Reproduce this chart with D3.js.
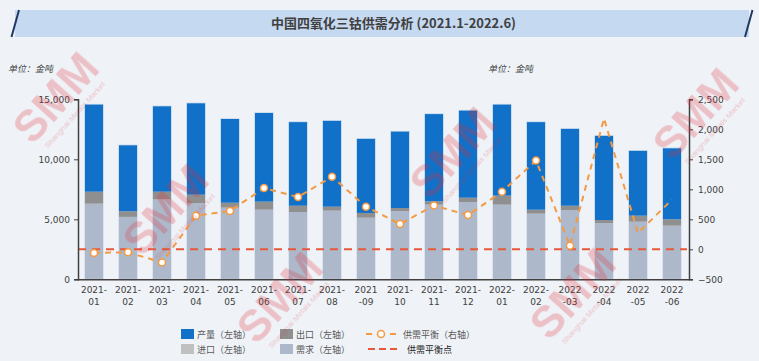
<!DOCTYPE html>
<html>
<head>
<meta charset="utf-8">
<script src="https://cdn.jsdelivr.net/npm/d3@7"></script>
<style>
html,body{margin:0;padding:0;background:#eff3f7;}
svg{display:block;}
</style>
</head>
<body>
<svg id="chart" width="759" height="361"></svg>
<script>
// ---------- data ----------
const months = ["2021-01","2021-02","2021-03","2021-04","2021-05","2021-06","2021-07","2021-08","2021-09","2021-10","2021-11","2021-12","2022-01","2022-02","2022-03","2022-04","2022-05","2022-06"];
const tickLabels = [["2021-","01"],["2021-","02"],["2021-","03"],["2021-","04"],["2021-","05"],["2021-","06"],["2021-","07"],["2021-","08"],["2021","-09"],["2021-","10"],["2021-","11"],["2021-","12"],["2022-","01"],["2022-","02"],["2022","-03"],["2022","-04"],["2022","-05"],["2022","-06"]];
const demand     = [6300,5200,6650,6330,5970,5800,5610,5720,5130,5690,6220,6440,6220,5470,5750,4690,4800,4470];
const exports_   = [1000,470,650,720,410,670,520,330,400,250,280,360,750,330,380,250,500,530];
const imports_   = [0,0,0,0,0,0,0,0,0,0,0,0,0,0,0,0,0,0];
const production = [7300,5530,7150,7650,7020,7430,7000,7200,6220,6410,7300,7300,7630,7330,6450,7060,5450,5950];
const balance    = [-60,-50,-220,560,640,1020,870,1210,710,420,730,570,960,1480,60,2180,270,830];
const balancePoint = 0;
const leftTicks  = [0,5000,10000,15000];
const rightTicks = [-500,0,500,1000,1500,2000,2500];
const markerCount = 15; // markers shown on first 15 points

const title = "中国四氧化三钴供需分析 (2021.1-2022.6)";
const unitLabel = "单位：金吨";

const seriesKeys = ["demand","export","import","production"];
const seriesColors = {demand:"#adb9cb", export:"#8f8f8f", import:"#c0c0c0", production:"#1170c8"};

// ---------- build ----------
const svg = d3.select("#chart");
const W = 759, H = 361;
svg.append("rect").attr("width",W).attr("height",H).attr("fill","#eff3f7");

const rows = months.map((m,i)=>({month:m, demand:demand[i], export:exports_[i], import:imports_[i], production:production[i]}));

const x = d3.scaleBand().domain(months).range([77,689]).paddingInner(0.44).paddingOuter(0.22);
const yL = d3.scaleLinear().domain([0,15000]).range([279.3,99.3]);
const yR = d3.scaleLinear().domain([-500,2500]).range([279.3,99.3]);

// title bar
const tb = svg.append("g");
tb.append("rect").attr("x",15).attr("y",10).attr("width",734).attr("height",27).attr("fill","#c5d9f1");
tb.append("line").attr("x1",19).attr("y1",10).attr("x2",11.5).attr("y2",37).attr("stroke","#1f3864").attr("stroke-width",2);
tb.append("line").attr("x1",752.5).attr("y1",10).attr("x2",745).attr("y2",37).attr("stroke","#1f3864").attr("stroke-width",2);
tb.append("text").attr("x",271).attr("y",28).attr("textLength",245).attr("lengthAdjust","spacingAndGlyphs")
  .attr("font-family","'Noto Sans CJK SC','DejaVu Sans',sans-serif").attr("font-weight","bold").attr("font-size",13)
  .attr("fill","#404040").text(title);

// unit labels
[8,488].forEach(ux=>{
  svg.append("text").attr("x",ux).attr("y",72).attr("font-family","'Noto Sans CJK SC',sans-serif")
    .attr("font-size",9).attr("font-style","italic").attr("fill","#404040").text(unitLabel);
});

// stacked bars
const stack = d3.stack().keys(seriesKeys)(rows);
const gBars = svg.append("g");
stack.forEach(layer=>{
  gBars.append("g").attr("fill",seriesColors[layer.key])
    .selectAll("rect").data(layer).join("rect")
    .attr("x",d=>x(d.data.month)).attr("width",x.bandwidth())
    .attr("y",d=>yL(d[1])).attr("height",d=>Math.max(0,yL(d[0])-yL(d[1])));
});
gBars.append("g").selectAll("rect").data(rows).join("rect")
  .attr("x",d=>x(d.month)).attr("width",x.bandwidth())
  .attr("y",d=>yL(d.demand+d.export+d.import+d.production))
  .attr("height",d=>yL(0)-yL(d.demand+d.export+d.import+d.production))
  .attr("fill","none").attr("stroke","#dfe8f2").attr("stroke-width",0.8);

// balance point line (0 on right axis)
svg.append("line").attr("x1",78).attr("x2",687).attr("y1",yR(balancePoint)).attr("y2",yR(balancePoint))
  .attr("stroke","#e9573a").attr("stroke-width",2).attr("stroke-dasharray","8,6");

// balance line
const cx = m=>x(m)+x.bandwidth()/2;
const line = d3.line().x((d,i)=>cx(months[i])).y(d=>yR(d));
svg.append("path").datum(balance).attr("d",line).attr("fill","none")
  .attr("stroke","#f39a45").attr("stroke-width",2).attr("stroke-dasharray","6,5");
svg.append("g").selectAll("circle").data(balance.slice(0,markerCount)).join("circle")
  .attr("cx",(d,i)=>cx(months[i])).attr("cy",d=>yR(d)).attr("r",3.5)
  .attr("fill","#fff").attr("stroke","#f39a45").attr("stroke-width",1.5);

// axes
const axisColor = "#404040";
const fontAxis = "'DejaVu Sans',Verdana,sans-serif";
const gL = svg.append("g").attr("transform","translate(78,0)")
  .call(d3.axisLeft(yL).tickValues(leftTicks).tickFormat(d3.format(",")).tickSizeOuter(0).tickSize(4));
const gR = svg.append("g").attr("transform","translate(689,0)")
  .call(d3.axisRight(yR).tickValues(rightTicks).tickFormat(d3.format(",")).tickSizeOuter(0).tickSize(4));
[gL,gR].forEach(g=>{
  g.select(".domain").attr("stroke",axisColor).attr("stroke-width",1.5);
  g.selectAll(".tick line").attr("stroke",axisColor);
  g.selectAll(".tick text").attr("font-family",fontAxis).attr("font-size",9).attr("fill",axisColor);
});
gL.selectAll(".tick text").attr("x",-8);
gR.selectAll(".tick text").attr("x",9);

const gX = svg.append("g").attr("transform",`translate(0,${yL(0)})`)
  .call(d3.axisBottom(x).tickSize(0).tickSizeOuter(0).tickFormat(""));
gX.select(".domain").attr("stroke",axisColor).attr("stroke-width",1.5);
gX.selectAll(".tick").each(function(m,i){
  const t = d3.select(this).append("text").attr("fill",axisColor).attr("font-family",fontAxis).attr("font-size",9).attr("text-anchor","middle");
  t.append("tspan").attr("x",0).attr("y",14).text(tickLabels[i][0]);
  t.append("tspan").attr("x",0).attr("y",26).text(tickLabels[i][1]);
});

// legend
const lg = svg.append("g").attr("font-family","'Noto Sans CJK SC',sans-serif").attr("font-size",9).attr("fill","#595959");
const legendItems = [
  {key:"production",label:"产量（左轴）",x:181,y:329},
  {key:"export",label:"出口（左轴）",x:280,y:329},
  {key:"import",label:"进口（左轴）",x:181,y:344},
  {key:"demand",label:"需求（左轴）",x:280,y:344}
];
legendItems.forEach(it=>{
  lg.append("rect").attr("x",it.x).attr("y",it.y).attr("width",13).attr("height",10).attr("fill",seriesColors[it.key]);
  lg.append("text").attr("x",it.x+16).attr("y",it.y+8.5).text(it.label);
});
lg.append("line").attr("x1",366).attr("x2",396).attr("y1",334).attr("y2",334)
  .attr("stroke","#f39a45").attr("stroke-width",2).attr("stroke-dasharray","6,18");
lg.append("circle").attr("cx",381).attr("cy",334).attr("r",3.5).attr("fill","#fff").attr("stroke","#f39a45").attr("stroke-width",1.5);
lg.append("text").attr("x",403).attr("y",337.5).text("供需平衡（右轴）");
lg.append("line").attr("x1",368).attr("x2",397).attr("y1",349).attr("y2",349)
  .attr("stroke","#e9573a").attr("stroke-width",2).attr("stroke-dasharray","7,4");
lg.append("text").attr("x",407).attr("y",352.5).attr("fill","#262626").text("供需平衡点");

// watermarks (kept inside the frame)
const wm = svg.append("g").attr("pointer-events","none").attr("opacity",0.26);
[[58,100],[168,212],[455,155],[698,116],[282,300],[575,296]].forEach(([wx,wy])=>{
  const g = wm.append("g").attr("transform",`translate(${wx},${wy}) rotate(-48)`);
  g.append("text").attr("text-anchor","middle").attr("font-family","'Liberation Sans',Arial,sans-serif")
    .attr("font-weight","bold").attr("font-size",44).attr("fill","#e0303c").attr("y",12).text("SMM");
  g.append("text").attr("text-anchor","middle").attr("font-family","'Liberation Sans',Arial,sans-serif")
    .attr("font-size",8).attr("fill","#e0303c").attr("y",25).text("Shanghai Metals Market");
});
</script>
</body>
</html>
